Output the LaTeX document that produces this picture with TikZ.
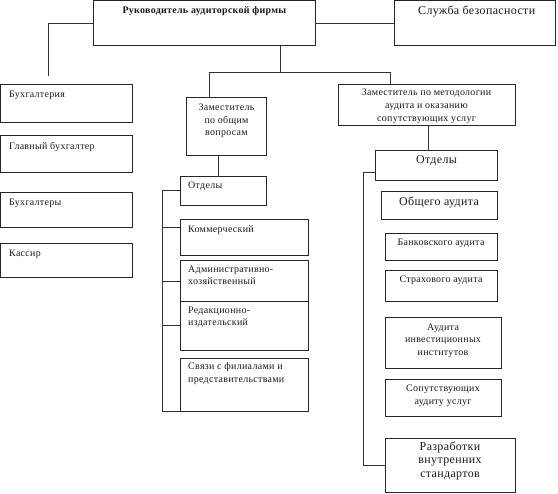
\documentclass[tikz,border=0pt]{standalone}
\usepackage{fontspec}
\setmainfont{Liberation Serif}[LetterSpace=3]
\usetikzlibrary{calc}
\begin{document}
\begin{tikzpicture}[x=1bp,y=-1bp,
  box/.style={draw=black!85,line width=0.9bp,inner sep=0pt,outer sep=0pt,anchor=north west},
  conn/.style={draw=black!80,line width=0.9bp},
  lab/.style={inner sep=0pt,font=\fontsize{10}{12.8}\selectfont,text=black!90},
  big/.style={inner sep=0pt,font=\fontsize{12}{13.4}\selectfont,text=black!90}]
\useasboundingbox (0,0) rectangle (558,494);
% boxes
\node[box,minimum width=221.4bp,minimum height=45bp] (top) at (93.6,0.8) {};
\node[box,minimum width=160.7bp,minimum height=45bp] (sec) at (394.3,0.8) {};
\node[box,minimum width=131.9bp,minimum height=38.3bp] (b1) at (0.5,84) {};
\node[box,minimum width=131.9bp,minimum height=37.7bp] (b2) at (0.5,135) {};
\node[box,minimum width=131.9bp,minimum height=35bp] (b3) at (0.5,192) {};
\node[box,minimum width=131.9bp,minimum height=34bp] (b4) at (0.5,243) {};
\node[box,minimum width=79.4bp,minimum height=58bp] (dep1) at (186.8,97) {};
\node[box,minimum width=177bp,minimum height=41.7bp] (dep2) at (338,84) {};
\node[box,minimum width=86bp,minimum height=29bp] (otdL) at (180,176) {};
\node[box,minimum width=128.7bp,minimum height=35.7bp] (kom) at (180,219.3) {};
\node[box,minimum width=128.7bp,minimum height=41bp] (adm) at (180,260.7) {};
\node[box,minimum width=128.7bp,minimum height=48.3bp] (red) at (180,301.7) {};
\node[box,minimum width=128.7bp,minimum height=53bp] (svy) at (180,358) {};
\node[box,minimum width=122bp,minimum height=29.3bp] (otdR) at (375.5,150.7) {};
\node[box,minimum width=116.3bp,minimum height=27.3bp] (obs) at (381,191.7) {};
\node[box,minimum width=112.3bp,minimum height=27.4bp] (ban) at (385,233.3) {};
\node[box,minimum width=112.3bp,minimum height=31bp] (str) at (385,270.7) {};
\node[box,minimum width=116.7bp,minimum height=51bp] (inv) at (385,317.3) {};
\node[box,minimum width=116.7bp,minimum height=36.7bp] (sop) at (385,379.3) {};
\node[box,minimum width=130bp,minimum height=54.4bp] (razr) at (385,438.3) {};
% labels
\node[lab,font=\fontsize{10}{12}\bfseries] (ltop) at (204.4,11) {Руководитель аудиторской фирмы};
\node[big] (lsec) at (476.7,12) {Служба безопасности};
\node[lab,anchor=west] (lb1) at (9,95) {Бухгалтерия};
\node[lab,anchor=west] (lb2) at (9,147) {Главный бухгалтер};
\node[lab,anchor=west] (lb3) at (9,203) {Бухгалтеры};
\node[lab,anchor=west] (lb4) at (9,254) {Кассир};
\node[lab,align=center] (ldep1) at (226.5,121) {Заместитель\\по общим\\вопросам};
\node[lab,align=center] (ldep2) at (426.5,106.5) {Заместитель по методологии\\аудита и оказанию\\сопутствующих услуг};
\node[lab,anchor=west] (lotdL) at (188,186) {Отделы};
\node[lab,anchor=west] (lkom) at (188,230) {Коммерческий};
\node[lab,anchor=west,align=left] (ladm) at (188,275.3) {Административно-\\хозяйственный};
\node[lab,anchor=west,align=left] (lred) at (188,317.3) {Редакционно-\\издательский};
\node[lab,anchor=west,align=left] (lsvy) at (188,373.8) {Связи с филиалами и\\представительствами};
\node[big] (lotdR) at (436.5,160.7) {Отделы};
\node[big] (lobs) at (439,202.7) {Общего аудита};
\node[lab] (lban) at (441,243) {Банковского аудита};
\node[lab] (lstr) at (441,280.7) {Страхового аудита};
\node[lab,align=center] (linv) at (443,340.6) {Аудита\\инвестиционных\\институтов};
\node[lab,align=center] (lsop) at (443,396) {Сопутствующих\\аудиту услуг};
\node[big,align=center] (lrazr) at (450,460.7) {Разработки\\внутренних\\стандартов};
% connector coordinates
\coordinate (accEnd) at (48,76);
\coordinate (hub) at (280,72.7);
\coordinate (hl) at (209,72.7);
\coordinate (hr) at (390.7,72.7);
\coordinate (d1x) at (218.5,0);
\coordinate (d2x) at (428.8,0);
\coordinate (brL) at (162.3,0);
\coordinate (brR) at (363.3,0);
% connectors
\draw[conn] (top.west) -| (accEnd);
\draw[conn] (top.east) -- (sec.west);
\draw[conn] (hub |- top.south) -- (hub);
\draw[conn] (hl) -- (hr);
\draw[conn] (hl) -- (hl |- dep1.north);
\draw[conn] (hr) -- (hr |- dep2.north);
\draw[conn] (d1x |- dep1.south) -- (d1x |- otdL.north);
\draw[conn] (d2x |- dep2.south) -- (d2x |- otdR.north);
\draw[conn] (otdL.west) -| (brL |- svy.south) -- (svy.south west);
\draw[conn] ($(kom.north west)+(0,8.4)$) -- (brL |- {$(kom.north west)+(0,8.4)$});
\draw[conn] (adm.west) -- (adm.west -| brL);
\draw[conn] (red.west) -- (red.west -| brL);
\draw[conn] ($(otdR.south west)+(0,-7.7)$) -| (brR |- razr.west) -- (razr.west);
\end{tikzpicture}
\end{document}
